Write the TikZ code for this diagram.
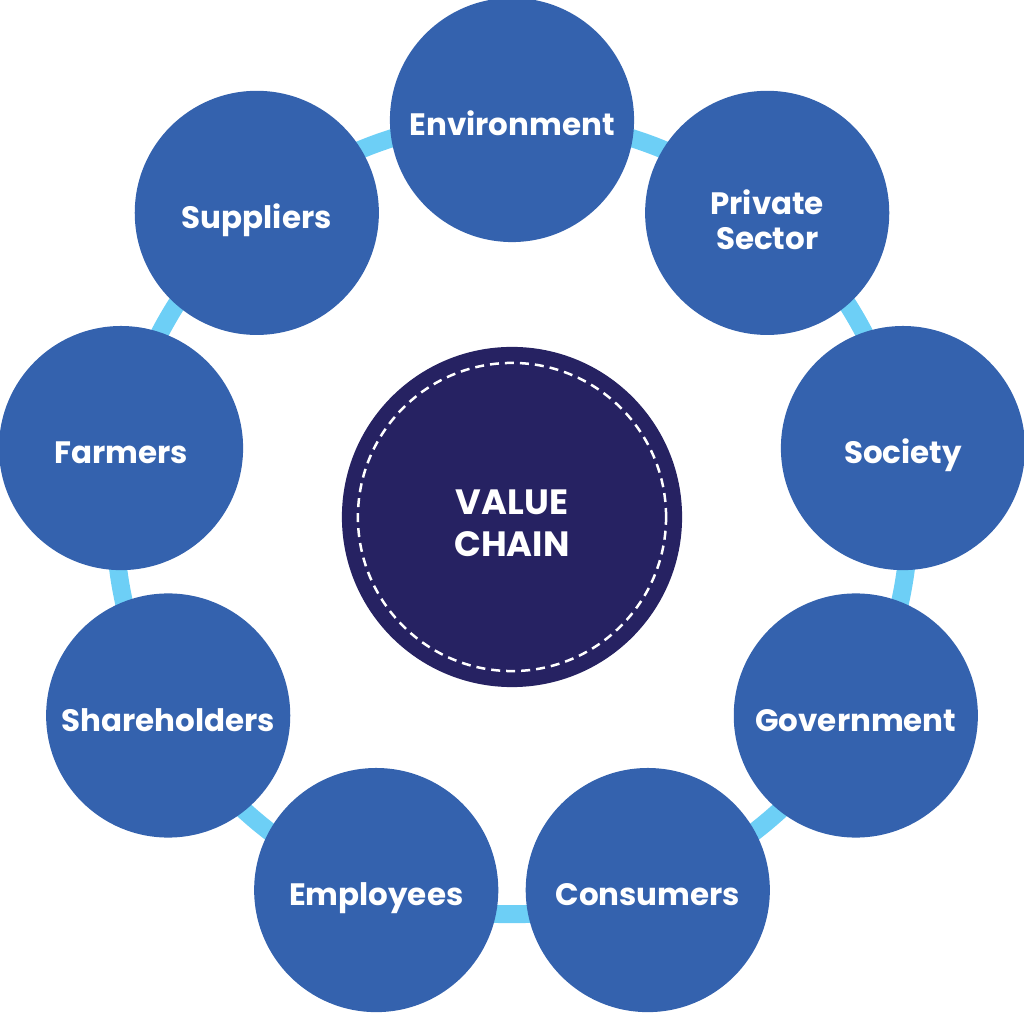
\documentclass[tikz,border=0pt]{standalone}
\usepackage{fontspec}
\setmainfont{Poppins}
\definecolor{stakeblue}{HTML}{3462AE}
\definecolor{hubnavy}{HTML}{262262}
\definecolor{ringblue}{HTML}{6DCFF6}
\tikzset{
    stake/.style={circle, fill=stakeblue, minimum size=2.44cm, inner sep=0pt,
        text=white, align=center, text height=9pt, text depth=0pt,
        font=\bfseries\fontsize{8.8}{10}\selectfont},
    twoline/.style={text height=21pt},
    hub/.style={circle, fill=hubnavy, minimum size=3.40cm, inner sep=0pt,
        text=white, align=center, text height=22.5pt, text depth=0pt,
        font=\bfseries\fontsize{10}{12}\selectfont},
    ring/.style={draw=ringblue, line width=0.18cm}
}
\begin{document}
\begin{tikzpicture}[x=0.01cm,y=-0.01cm]
    \useasboundingbox (0,0) rectangle (1024,1013);

    \node[hub] (hub) at (512,517) {VALUE\\CHAIN};
    \draw[white, line width=0.025cm, dash pattern=on 0.09cm off 0.06cm] (hub.center) circle[radius=1.54cm];

    \draw[ring] (hub.center) circle[radius=3.97cm];

    \foreach \a/\nm/\opt/\txt in {90/env//Environment, 50/priv/twoline/{Private\\Sector}, 10/soc//Society,
        -30/gov//Government, -70/cons//Consumers, -110/empl//Employees,
        -150/share//Shareholders, 170/farm//Farmers, 130/supp//Suppliers}
        \node[stake, \opt] (\nm) at ({512+397*cos(\a)},{517-397*sin(\a)}) {\txt};
\end{tikzpicture}
\end{document}
